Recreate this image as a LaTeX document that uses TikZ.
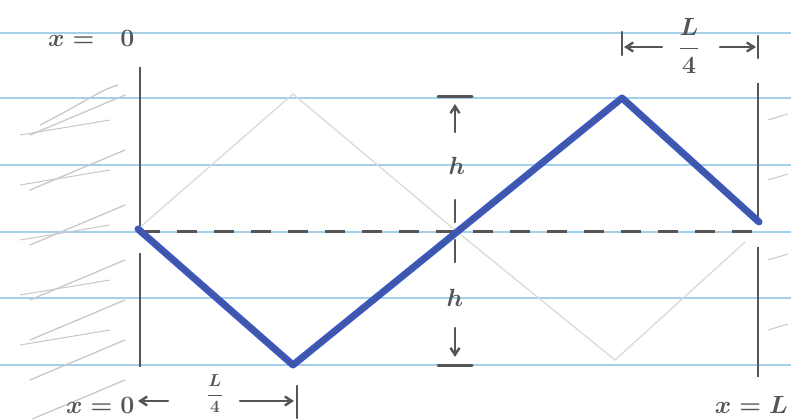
\documentclass[tikz,border=0pt]{standalone}
\usetikzlibrary{arrows.meta}
\definecolor{ruled}{RGB}{165,208,236}
\definecolor{pencil}{RGB}{85,85,85}
\definecolor{ink}{RGB}{58,88,192}
\definecolor{ghost}{RGB}{218,218,218}
\definecolor{scrib}{RGB}{200,200,200}
\begin{document}
\begin{tikzpicture}[x=1pt,y=-1pt,
  rule/.style={ruled,line width=2.6pt},
  wall/.style={pencil,line width=2.6pt},
  pen/.style={pencil,line width=2.4pt,line cap=round},
  arr/.style={pen,-{Straight Barb[length=7pt,width=9pt]}},
  ghostline/.style={ghost,line width=1.3pt},
  hand/.style={pencil,inner sep=0pt,font=\fontsize{32}{32}\selectfont\boldmath},
  small/.style={pencil,inner sep=0pt,font=\fontsize{26}{26}\selectfont\boldmath},
  string/.style={ink,line width=7pt,line join=round,line cap=round}]
\useasboundingbox (0,0) rectangle (791,419);
\fill[white] (0,0) rectangle (791,419);
% ruled paper
\foreach \y in {33,98,165,232,298,365} \draw[rule] (0,\y) -- (791,\y);
% faint scribbles on the left
\foreach \y in {95,150,205,260,300,340,380} \draw[scrib,line width=1.3pt,line cap=round] (30,\y+40) -- (125,\y);
\draw[scrib,line width=1.3pt] (40,125) .. controls (80,105) and (100,90) .. (118,85);
\foreach \y in {110,160,215,270,320} \draw[scrib,line width=1pt] (20,\y+25) -- (110,\y+10);
\foreach \y in {120,180,260,330} \draw[scrib,line width=1pt] (768,\y) -- (788,\y-6);
% ghost diamond
\coordinate (A) at (138,229);
\coordinate (B) at (293,365);
\coordinate (C) at (622,98);
\coordinate (D) at (759,222);
\coordinate (G1) at (293,94);
\coordinate (G2) at (455,230);
\coordinate (G3) at (615,360);
\coordinate (G4) at (745,242);
\draw[ghostline] (A) -- (G1) -- (G2);
\draw[ghostline] (G2) -- (G3) -- (G4);
% walls
\coordinate (LT) at (140,67);
\coordinate (LM1) at (140,226);
\coordinate (LM2) at (140,253);
\coordinate (LB) at (140,367);
\coordinate (RT) at (758,83);
\coordinate (RM1) at (758,218);
\coordinate (RM2) at (758,247);
\coordinate (RB) at (758,377);
\draw[wall] (LT) -- (LM1);
\draw[wall] (LM2) -- (LB);
\draw[wall] (RT) -- (RM1);
\draw[wall] (RM2) -- (RB);
% dashed equilibrium line
\coordinate (DL) at (140,232);
\coordinate (DR) at (757,232);
\draw[pencil,line width=3pt,dash pattern=on 20pt off 17pt] (DL) -- (DR);
% string
\draw[string] (A) -- (B) -- (C) -- (D);
\draw[pencil,line width=1.2pt,opacity=0.55,line join=round] (A) -- (B) -- (C) -- (D);
% amplitude dimension
\coordinate (HT) at (455,97);
\coordinate (HB) at (455,365);
\draw[pen,line width=3pt] ([xshift=-17pt]HT) -- ([xshift=17pt]HT);
\draw[pen,line width=3pt] ([xshift=-17pt]HB) -- ([xshift=17pt]HB);
\coordinate (UA) at (455,132);
\coordinate (UB) at (455,104);
\draw[arr] (UA) -- (UB);
\node[small] (h1) at (457,166) {$h$};
\coordinate (T1) at (455,200);
\coordinate (T2) at (455,222);
\coordinate (T3) at (455,240);
\coordinate (T4) at (455,262);
\draw[pen] (T1) -- (T2);
\draw[pen] (T3) -- (T4);
\node[small] (h2) at (455,298) {$h$};
\coordinate (DA) at (455,328);
\coordinate (DB) at (455,357);
\draw[arr] (DA) -- (DB);
% top labels
\node[hand,anchor=west] (x0top) at (48,38) {$x=$\hspace{26pt}$0$};
\node[small,font=\fontsize{24}{24}\selectfont\boldmath] (ftop) at (689,46) {$\displaystyle\frac{L}{4}$};
\coordinate (TLB1) at (622,32);
\coordinate (TLB2) at (622,55);
\draw[pen] (TLB1) -- (TLB2);
\coordinate (TLa) at (662,47);
\coordinate (TLb) at (624,47);
\draw[arr] (TLa) -- (TLb);
\coordinate (TRa) at (720,47);
\coordinate (TRb) at (756,47);
\draw[arr] (TRa) -- (TRb);
\coordinate (TRB1) at (758,36);
\coordinate (TRB2) at (758,58);
\draw[pen] (TRB1) -- (TRB2);
% bottom labels
\node[small,anchor=west] (x0bot) at (66,405) {$x=0$};
\coordinate (BLa) at (168,401);
\coordinate (BLb) at (138,401);
\draw[arr] (BLa) -- (BLb);
\node[small,font=\fontsize{19}{19}\selectfont\boldmath] (fbot) at (215,394) {$\displaystyle\frac{L}{4}$};
\coordinate (BRa) at (240,401);
\coordinate (BRb) at (294,401);
\draw[arr] (BRa) -- (BRb);
\coordinate (BRB1) at (297,386);
\coordinate (BRB2) at (297,418);
\draw[pen] (BRB1) -- (BRB2);
\node[small,anchor=east,font=\fontsize{24}{24}\selectfont\boldmath] (xL) at (788,405) {$x=L$};
\end{tikzpicture}
\end{document}
